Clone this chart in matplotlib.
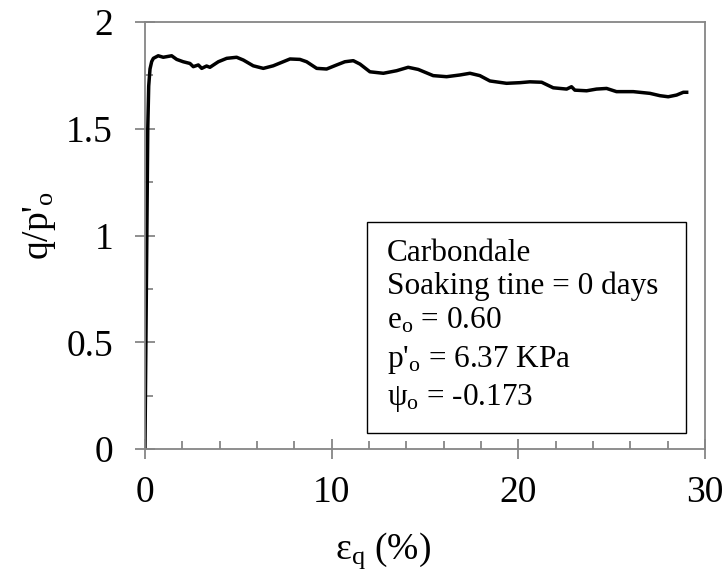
import matplotlib.pyplot as plt
from matplotlib.ticker import MultipleLocator
from matplotlib.patches import Rectangle

plt.rcParams['font.family'] = ['Liberation Serif', 'DejaVu Serif']
plt.rcParams['mathtext.fontset'] = 'custom'
plt.rcParams['mathtext.rm'] = 'Liberation Serif'
plt.rcParams['mathtext.it'] = 'Liberation Serif:italic'

# valores: deformacion (%) y q/p'o
eps_q = [0.0, 0.05, 0.10, 0.15, 0.20, 0.27, 0.36, 0.45, 0.71, 0.98, 1.43, 1.70,
         2.05, 2.41, 2.59, 2.86, 3.04, 3.30, 3.48, 3.93, 4.38, 4.91, 5.27, 5.80,
         6.34, 6.87, 7.77, 8.30, 8.66, 9.20, 9.73, 10.27, 10.71, 11.16, 11.52,
         12.05, 12.77, 13.48, 14.10, 14.64, 15.44, 16.16, 16.87, 17.41, 17.94,
         18.48, 19.37, 20.09, 20.62, 21.25, 21.87, 22.59, 22.85, 23.03, 23.66,
         24.19, 24.73, 25.26, 26.16, 27.05, 27.59, 28.03, 28.48, 28.84, 29.02]
q_p = [0.0, 0.5, 1.0, 1.5, 1.70, 1.78, 1.815, 1.83, 1.842, 1.835, 1.842, 1.825,
       1.814, 1.806, 1.791, 1.799, 1.783, 1.794, 1.788, 1.814, 1.830, 1.835,
       1.822, 1.795, 1.783, 1.795, 1.827, 1.825, 1.814, 1.783, 1.780, 1.799,
       1.814, 1.819, 1.803, 1.767, 1.760, 1.772, 1.788, 1.778, 1.749, 1.744,
       1.752, 1.760, 1.749, 1.724, 1.713, 1.716, 1.720, 1.718, 1.692, 1.686,
       1.697, 1.681, 1.678, 1.686, 1.689, 1.674, 1.674, 1.666, 1.655, 1.650,
       1.658, 1.671, 1.671]

info = ['Carbondale',
        'Soaking tine = 0 days',
        r'e$_\mathrm{o}$ = 0.60',
        r"p'$_\mathrm{o}$ = 6.37 KPa",
        r'ψ$_\mathrm{o}$ = -0.173']
info_y = [0.441, 0.362, 0.283, 0.193, 0.103]

fig = plt.figure(figsize=(7.27, 5.77), dpi=100)
ax = fig.add_axes([0.1994, 0.2218, 0.7703, 0.740])

ax.plot(eps_q, q_p, color='black', lw=2.5, solid_joinstyle='round')

ax.set_xlim(0, 30)
ax.set_ylim(0, 2)
ax.xaxis.set_major_locator(MultipleLocator(10))
ax.xaxis.set_minor_locator(MultipleLocator(2))
ax.yaxis.set_major_locator(MultipleLocator(0.5))
ax.yaxis.set_minor_locator(MultipleLocator(0.25))
ax.set_yticks([0, 0.5, 1, 1.5, 2], ['0', '0.5', '1', '1.5', '2'])

gris = '#868686'
for s in ax.spines.values():
    s.set_color(gris)
    s.set_linewidth(1.3)

ax.tick_params(which='major', direction='inout', length=14, width=1.3,
               color=gris, labelsize=27)
ax.tick_params(which='minor', direction='in', length=6, width=1.3, color=gris)
ax.tick_params(axis='y', which='major', pad=16)
ax.tick_params(axis='x', which='major', pad=12)

# caja de texto
ax.add_patch(Rectangle((0.396, 0.037), 0.570, 0.495, transform=ax.transAxes,
                       fill=False, edgecolor='black', lw=1.0, zorder=3))
for t, y in zip(info, info_y):
    ax.text(0.4316, y, t, transform=ax.transAxes, fontsize=22.5,
            va='baseline', ha='left')

fig.text(0.055, 0.61, r"q/p'$_\mathrm{o}$", rotation=90, fontsize=27,
         ha='center', va='center')
fig.text(0.527, 0.045, r'ε$_\mathrm{q}$ (%)', fontsize=27,
         ha='center', va='center')

fig.savefig('out.png', dpi=100)
